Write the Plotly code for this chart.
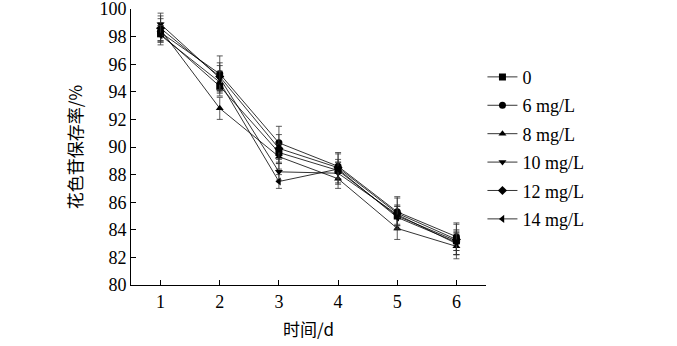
import plotly.graph_objects as go

days = [1, 2, 3, 4, 5, 6]
series_names = ["0", "6 mg/L", "8 mg/L", "10 mg/L", "12 mg/L", "14 mg/L"]
values = {
    "0":       [98.2, 94.4, 89.6, 88.3, 85.0, 83.2],
    "6 mg/L":  [98.3, 95.3, 90.3, 88.6, 85.3, 83.5],
    "8 mg/L":  [98.5, 92.8, 89.3, 87.7, 84.1, 82.8],
    "10 mg/L": [98.9, 95.0, 88.2, 88.1, 85.1, 83.0],
    "12 mg/L": [98.6, 95.1, 89.9, 88.5, 85.2, 83.3],
    "14 mg/L": [98.1, 94.7, 87.5, 88.4, 84.9, 83.1],
}
errors = {
    "0":       [0.6, 0.7, 0.8, 0.6, 0.7, 0.7],
    "6 mg/L":  [0.7, 1.3, 1.2, 0.9, 1.0, 1.0],
    "8 mg/L":  [0.8, 0.8, 0.9, 0.7, 0.8, 0.9],
    "10 mg/L": [0.8, 0.9, 0.6, 0.8, 0.7, 0.8],
    "12 mg/L": [0.9, 1.0, 1.0, 1.1, 1.2, 1.1],
    "14 mg/L": [0.7, 0.8, 0.5, 0.7, 0.8, 0.9],
}
symbols = ["square", "circle", "triangle-up", "triangle-down", "diamond", "triangle-left"]
y_ticks = [80, 82, 84, 86, 88, 90, 92, 94, 96, 98, 100]

fig = go.Figure()
for name, sym in zip(series_names, symbols):
    fig.add_trace(go.Scatter(
        x=days, y=values[name], name=name, mode="lines+markers",
        line=dict(color="black", width=0.8),
        marker=dict(symbol=sym, size=7, color="black"),
        error_y=dict(type="data", array=errors[name], color="#333333", thickness=0.8, width=3),
        legendgroup=name,
    ))

serif = "Liberation Serif"
axis_font = dict(family=serif, size=18, color="black")
cjk_font = dict(family="Noto Sans CJK SC", size=17, color="black")
fig.update_layout(
    width=677, height=346,
    margin=dict(l=131, r=191, t=9, b=61, autoexpand=False),
    paper_bgcolor="white", plot_bgcolor="white",
    font=axis_font,
    showlegend=True,
    legend=dict(x=0.99, y=0.82, xanchor="left", yanchor="top", font=axis_font,
                bgcolor="rgba(0,0,0,0)", tracegroupgap=2, traceorder="grouped",
                itemwidth=30),
    xaxis=dict(range=[0.5, 6.5], tickvals=days, ticks="inside", ticklen=5,
               showline=True, linecolor="black", linewidth=1, tickcolor="black",
               showgrid=False, zeroline=False, tickfont=axis_font, automargin=False,
               title=dict(text="时间/d", font=cjk_font, standoff=13)),
    yaxis=dict(range=[80, 100], tickvals=y_ticks, ticks="inside", ticklen=5,
               showline=True, linecolor="black", linewidth=1, tickcolor="black",
               showgrid=False, zeroline=False, tickfont=axis_font, automargin=False,
               ticklabeloverflow="allow",
               title=dict(text="花色苷保存率/%", font=cjk_font, standoff=12)),
)
fig.write_html("out.html")
